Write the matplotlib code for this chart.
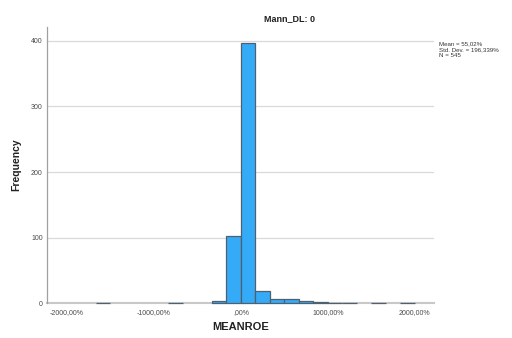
import matplotlib
matplotlib.use("Agg")
import matplotlib.pyplot as plt
import numpy as np

plt.rcParams['font.family'] = ['Liberation Sans', 'DejaVu Sans']

# Histogram of MEANROE (%), equal-width bins starting at -1666.67
bin_width = 2000.0 / 12
first_bin_start = -1666.67
counts = [1, 0, 0, 0, 0, 1, 0, 0, 3, 102, 396, 18, 7, 7, 4, 2, 1, 1, 0, 1, 0, 1]

x_ticks = [-2000, -1000, 0, 1000, 2000]
x_tick_labels = ["-2000,00%", "-1000,00%", ",00%", "1000,00%", "2000,00%"]
y_ticks = [0, 100, 200, 300, 400]

title = "Mann_DL: 0"
x_label = "MEANROE"
y_label = "Frequency"
stats_lines = ["Mean = 55,02%", "Std. Dev. = 196,339%", "N = 545"]

fig = plt.figure(figsize=(5.12, 3.38), dpi=100)
ax = fig.add_axes([0.0918, 0.1027, 0.7559, 0.8173])

starts = first_bin_start + bin_width * np.arange(len(counts))
counts_arr = np.array(counts)
mask = counts_arr > 0
bars = ax.bar(starts[mask], counts_arr[mask], width=bin_width, align='edge',
              color='#35abf8', edgecolor='#4f6070', linewidth=0.9, zorder=3)
for b in bars:
    b.set_clip_on(False)

ax.set_xlim(-2230, 2220)
ax.set_ylim(0, 421)

ax.set_yticks(y_ticks)
ax.set_xticks(x_ticks)
ax.set_xticklabels(x_tick_labels)
ax.tick_params(axis='both', length=0, labelsize=5, colors='#4a4a4a')
ax.tick_params(axis='y', pad=3)
ax.tick_params(axis='x', pad=4)

for v in y_ticks[1:]:
    ax.axhline(v, color='#d9d9d9', linewidth=0.9, zorder=1)
ax.axhline(0, color='#c8c8c8', linewidth=1.5, zorder=2, clip_on=False)

for side in ['top', 'right', 'bottom']:
    ax.spines[side].set_visible(False)
ax.spines['left'].set_color('#a0a0a0')
ax.spines['left'].set_linewidth(0.9)

fig.text(290 / 512, 1 - 19 / 338, title, ha='center', va='center',
         fontsize=6.5, fontweight='bold', color='#222222')
fig.text(241 / 512, 1 - 327 / 338, x_label, ha='center', va='center',
         fontsize=8, fontweight='bold', color='#222222')
fig.text(16.5 / 512, 1 - 165 / 338, y_label, ha='center', va='center',
         rotation=90, fontsize=7.5, fontweight='bold', color='#222222')

for i, line in enumerate(stats_lines):
    fig.text(439 / 512, 1 - (44 + 5.6 * i) / 338, line, ha='left', va='center',
             fontsize=4.4, color='#333333')

fig.savefig("out.png", dpi=100)
